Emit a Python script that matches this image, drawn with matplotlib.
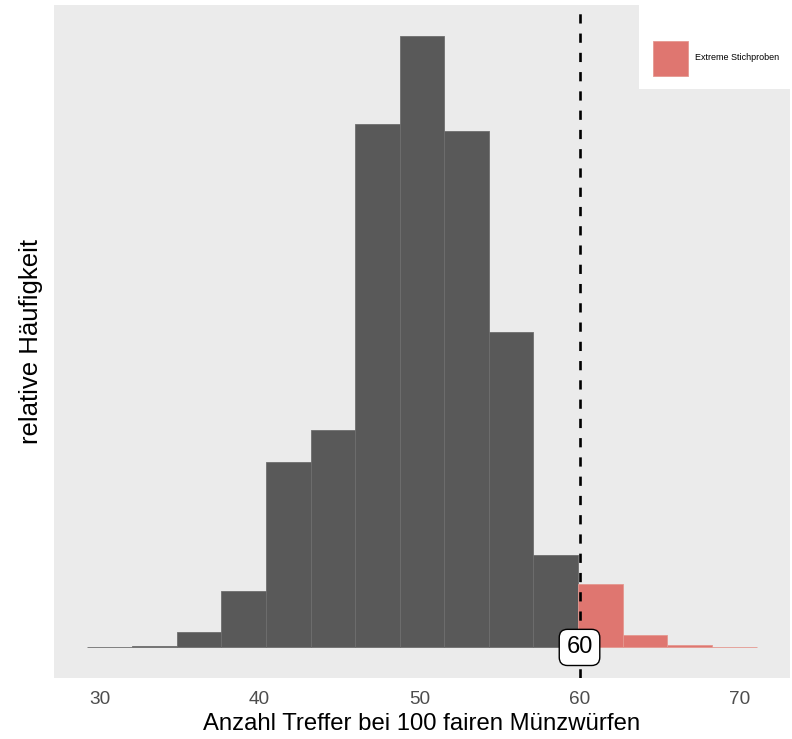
import matplotlib
matplotlib.use("Agg")
import matplotlib.pyplot as plt
from matplotlib.patches import Rectangle
import numpy as np

plt.rcParams['font.family'] = ['Liberation Sans', 'DejaVu Sans']

# ---- data ----
bin_edges = [29.23, 32.02, 34.81, 37.60, 40.39, 43.18, 45.96, 48.75,
             51.54, 54.33, 57.12, 59.91, 62.70, 65.49, 68.28, 71.07]
rel_freq_normal = [0.0002, 0.0004, 0.0058, 0.0215, 0.0708, 0.0834,
                   0.2002, 0.2341, 0.1976, 0.1206, 0.0354]
rel_freq_extreme = [0.0243, 0.0047, 0.0008, 0.0002]
threshold = 60
x_ticks = [30, 40, 50, 60, 70]
x_label = "Anzahl Treffer bei 100 fairen Münzwürfen"
y_label = "relative Häufigkeit"
legend_label = "Extreme Stichproben"

dark = "#595959"
red = "#DF7670"
panel_bg = "#EBEBEB"

fig = plt.figure(figsize=(7.92, 7.39), dpi=100)
ax = fig.add_axes([54/792, (739-678)/739, (790-54)/792, (678-5.3)/739])
ax.set_facecolor(panel_bg)

n_norm = len(rel_freq_normal)
left_n = np.array(bin_edges[:n_norm])
width_n = np.diff(bin_edges)[:n_norm]
ax.bar(left_n, rel_freq_normal, width=width_n, align='edge', color=dark,
       edgecolor="#6E6E6E", linewidth=0.6)

left_e = np.array(bin_edges[n_norm:-1])
width_e = np.diff(bin_edges)[n_norm:]
ax.bar(left_e, rel_freq_extreme, width=width_e, align='edge', color=red,
       edgecolor="#E59890", linewidth=0.6)

ax.axvline(threshold, color="black", linewidth=1.9, linestyle=(0, (3.5, 3.8)), zorder=3)

ax.text(threshold, 0, str(threshold), ha='center', va='center', fontsize=17,
        color='black', zorder=5,
        bbox=dict(boxstyle="round,pad=0.3,rounding_size=0.35", facecolor='white',
                  edgecolor='black', linewidth=1.0))

xmin, xmax = bin_edges[0], bin_edges[-1]
xr = xmax - xmin
ax.set_xlim(xmin - 0.05 * xr, xmax + 0.05 * xr)
ymax = max(rel_freq_normal + rel_freq_extreme)
ax.set_ylim(-0.05 * ymax, 1.05 * ymax)

ax.set_xticks(x_ticks)
ax.set_xticklabels([str(t) for t in x_ticks], fontsize=13.7, color="#4D4D4D")
ax.tick_params(axis='x', length=0, pad=9)
ax.set_yticks([])
for s in ax.spines.values():
    s.set_visible(False)

ax.set_xlabel(x_label, fontsize=17.2, color='black', labelpad=4)
ax.set_ylabel(y_label, fontsize=18.5, color='black', labelpad=8)

# legend box (top-right, overlapping panel)
fig.patches.append(Rectangle((639/792, (739-89)/739), (792-639)/792, (89-5.3)/739,
                             transform=fig.transFigure, facecolor='white',
                             edgecolor='none', zorder=10))
fig.patches.append(Rectangle((652.7/792, (739-75.7)/739), 35/792, 35/739,
                             transform=fig.transFigure, facecolor=red,
                             edgecolor='#E59890', linewidth=0.6, zorder=11))
fig.text(695/792, (739-58)/739, legend_label, fontsize=6.5, va='center', ha='left',
         color='black', zorder=12)

fig.savefig("out.png", dpi=100)
